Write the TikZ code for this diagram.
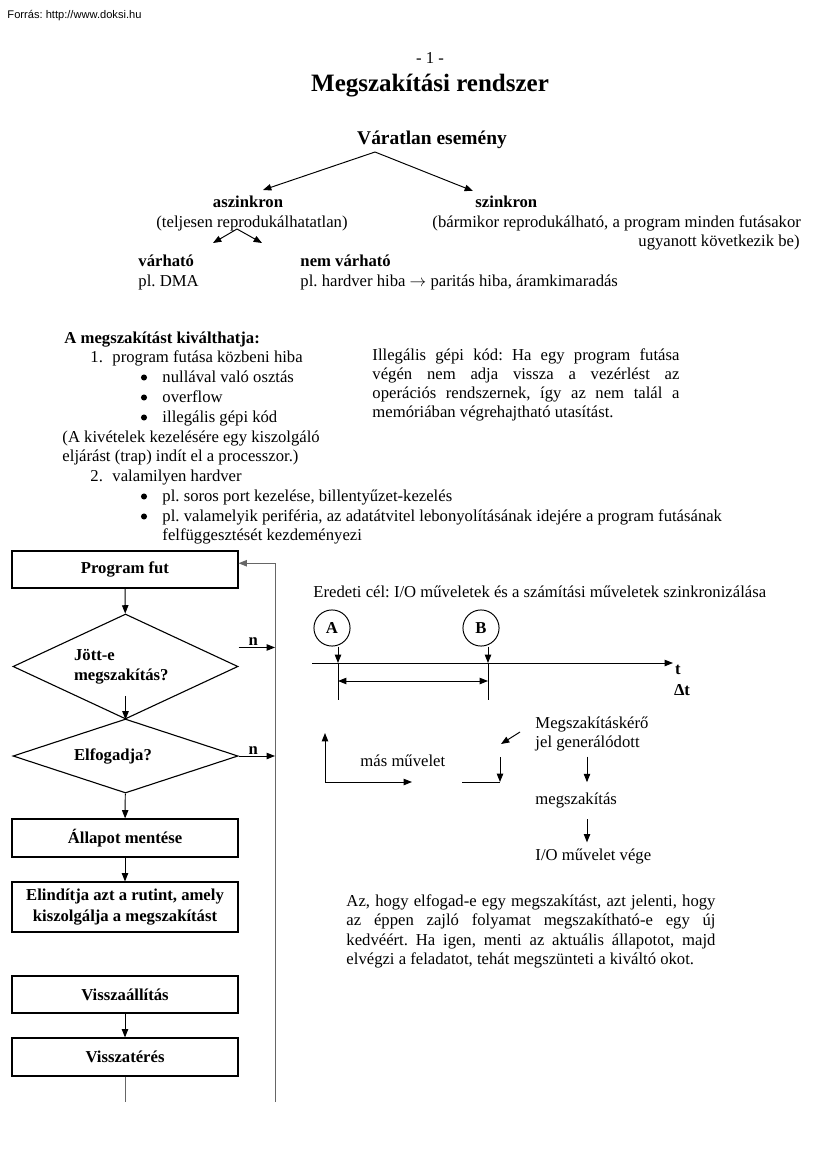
\documentclass[tikz,border=0pt,12pt]{standalone}
\usepackage{fontspec}
\setmainfont{Liberation Serif}
\newfontfamily\webfont{Liberation Sans}
\usetikzlibrary{arrows.meta, calc, positioning, shapes.geometric}
\tikzset{
>={Triangle[length=6pt,width=4.6pt]}, % filled heads as in the original
every node/.style={inner sep=1pt},
txt/.style={anchor=base west, inner sep=0pt}, % one line of running text
dot/.style={circle, fill, inner sep=0pt, minimum size=4.4pt}, % list bullet
stepbox/.style={draw, line width=0.8pt, minimum width=162.7pt, align=center, font=\bfseries},
ask/.style={diamond, draw, line width=0.8pt, aspect=2.5, minimum width=162pt, text width=74pt, align=left, font=\bfseries},
}
\begin{document}
\frenchspacing
\begin{tikzpicture}[x=0.72pt, y=-0.72pt, line width=0.7pt]
\useasboundingbox (0,0) rectangle (827,1170);
% header
\node[txt, font=\webfont\fontsize{8}{9}\selectfont] (src) at (7,19) {Forrás: http://www.doksi.hu};
\node[anchor=base, inner sep=0pt] (pg) at (430,64) {- 1 -};
\node[anchor=base, inner sep=0pt, font=\fontsize{18}{21}\selectfont\bfseries] (title) at (430,92) {Megszakítási rendszer};
% event tree
\node[anchor=base, inner sep=0pt, font=\fontsize{14}{17}\selectfont\bfseries] (event) at (432,145) {Váratlan esemény};
\coordinate (apex) at (375,152);
\coordinate (tipa) at (263,190);
\coordinate (tips) at (473,191);
\draw[->] (apex) -- (tipa);
\draw[->] (apex) -- (tips);
\node[anchor=base, inner sep=0pt, font=\bfseries] (asz) at (248,208) {aszinkron};
\node[anchor=base, inner sep=0pt] (asznote) at (252,228) {(teljesen reprodukálhatatlan)};
\node[txt, font=\bfseries] (szi) at (475,208) {szinkron};
\node[txt] (szinote) at (432,228) {(bármikor reprodukálható, a program minden futásakor};
\node[anchor=base east, inner sep=0pt] (szinote2) at (800,247) {ugyanott következik be)};
\coordinate (fork) at (237,229);
\coordinate (forka) at (213,243);
\coordinate (forkb) at (262,243);
\draw[->] (fork) -- (forka);
\draw[->] (fork) -- (forkb);
\node[txt, font=\bfseries] (varh) at (138,267) {várható};
\node[txt] (dma) at (138,287) {pl. DMA};
\node[txt, font=\bfseries] (nvarh) at (300,267) {nem várható};
\node[txt] (hiba) at (300,287) {pl. hardver hiba $\rightarrow$ paritás hiba, áramkimaradás};
% causes
\node[txt, font=\bfseries] (cause) at (64,343) {A megszakítást kiválthatja:};
\node[txt] (num1) at (90,362) {1.};
\node[txt] (c1) at (112,362) {program futása közbeni hiba};
\foreach \y/\t [count=\i] in {382/nullával való osztás, 402/overflow, 422/illegális gépi kód}
  {\node[dot] (bul1\i) at (144,\y-4.5) {};
   \node[txt] (item1\i) at (162,\y) {\t};}
\node[txt] (trap1) at (62,442) {(A kivételek kezelésére egy kiszolgáló};
\node[txt] (trap2) at (62,461) {eljárást (trap) indít el a processzor.)};
\node[txt] (num2) at (90,481) {2.};
\node[txt] (c2) at (112,481) {valamilyen hardver};
\node[dot] (bul21) at (144,496.5) {};
\node[txt] (item21) at (162,501) {pl. soros port kezelése, billentyűzet-kezelés};
\node[dot] (bul22) at (144,516.5) {};
\node[txt] (item22) at (162,521) {pl. valamelyik periféria, az adatátvitel lebonyolításának idejére a program futásának};
\node[txt] (item23) at (162,540) {felfüggesztését kezdeményezi};
% note on illegal code
\node[txt] (ill1) at (372,360) {\makebox[221pt][s]{Illegális gépi kód: Ha egy program futása}};
\node[txt] (ill2) at (372,379) {\makebox[221pt][s]{végén nem adja vissza a vezérlést az}};
\node[txt] (ill3) at (372,398) {\makebox[221pt][s]{operációs rendszernek, így az nem talál a}};
\node[txt] (ill4) at (372,417) {memóriában végrehajtható utasítást.};
% flowchart
\node[stepbox, minimum height=26.6pt] (prog) at (125,569.5) {Program fut};
\node[ask, minimum height=75.6pt] (jott) at (125.5,666.5) {Jött-e\\megszakítás?};
\node[ask, minimum height=53.3pt] (elf) at (125.5,756) {Elfogadja?};
\node[stepbox, minimum height=27.4pt] (mentes) at (125,838) {Állapot mentése};
\node[stepbox, minimum height=36pt] (rutin) at (125,907) {Elindítja azt a rutint, amely\\kiszolgálja a megszakítást};
\node[stepbox, minimum height=26.6pt] (visszaall) at (125,994.5) {Visszaállítás};
\node[stepbox, minimum height=27.4pt] (visszater) at (125,1057) {Visszatérés};
\coordinate (retb) at (275,1102);
\draw[->] (prog) -- (jott);
\draw[->] ([yshift=17pt]jott.south) -- (jott.south);
\draw[->] (elf) -- (mentes);
\draw[->] (mentes) -- (rutin);
\draw[->] (visszaall) -- (visszater);
\draw[black!60] (visszater.south) -- (visszater.south |- retb);
\draw[black!60, ->] (retb) |- ([yshift=4.5pt]prog.east);
\draw[->] ([yshift=13.7pt]jott.east) coordinate (nj) -- (nj -| retb)
  node[above, pos=0.4, font=\bfseries] (nlab1) {n};
\draw[->] (elf.east) -- (elf.east -| retb)
  node[above, pos=0.4, font=\bfseries] (nlab2) {n};
% timing
\node[txt] (goal) at (313,597) {Eredeti cél: I/O műveletek és a számítási műveletek szinkronizálása};
\node[circle, draw, minimum size=26pt, font=\bfseries] (A) at (332,628) {A};
\node[circle, draw, minimum size=26pt, font=\bfseries] (B) at (481,628) {B};
\coordinate (t0) at (312,663);
\coordinate (t1) at (673,663);
\coordinate (ta) at (338,663);
\coordinate (tb) at (488,663);
\draw[->] (t0) -- (t1);
\draw[->] (A.south -| ta) -- (ta);
\draw[->] (B.south -| tb) -- (tb);
\draw (ta) -- ++(0,37);
\draw (tb) -- ++(0,37);
\draw[<->] ($(ta)+(0,18)$) -- ($(tb)+(0,18)$);
\node[font=\bfseries] (tlab) at (678,670) {t};
\node[font=\bfseries] (dtlab) at (682,690) {Δt};
% other operation
\coordinate (corner) at (325,782);
\coordinate (up) at (325,733);
\coordinate (right) at (412,782);
\draw[<->] (up) -- (corner) -- (right);
\node[txt] (mas) at (360,766) {más művelet};
\coordinate (s0) at (462,782);
\coordinate (s1) at (500,782);
\draw (s0) -- (s1);
\draw[->] ($(s1)+(0,-25)$) -- (s1);
\node[txt] (mkero) at (535,728) {Megszakításkérő};
\node[txt] (mkero2) at (535,747) {jel generálódott};
\coordinate (sigtail) at (520,732);
\coordinate (sighead) at (501,744);
\draw[->] (sigtail) -- (sighead);
\node[txt] (megsz) at (535,804) {megszakítás};
\node[txt] (iovege) at (535,860) {I/O művelet vége};
\coordinate (col) at (587,0);
\draw[->] ([yshift=-4pt]mkero2.south -| col) -- ([yshift=7pt]megsz.north -| col);
\draw[->] ([yshift=-8pt]megsz.south -| col) -- ([yshift=4pt]iovege.north -| col);
% note on accepting
\node[txt] (acc1) at (346,906) {\makebox[265.7pt][s]{Az, hogy elfogad-e egy megszakítást, azt jelenti, hogy}};
\node[txt] (acc2) at (346,925) {\makebox[265.7pt][s]{az éppen zajló folyamat megszakítható-e egy új}};
\node[txt] (acc3) at (346,945) {\makebox[265.7pt][s]{kedvéért. Ha igen, menti az aktuális állapotot, majd}};
\node[txt] (acc4) at (346,964) {elvégzi a feladatot, tehát megszünteti a kiváltó okot.};
\end{tikzpicture}
\end{document}
